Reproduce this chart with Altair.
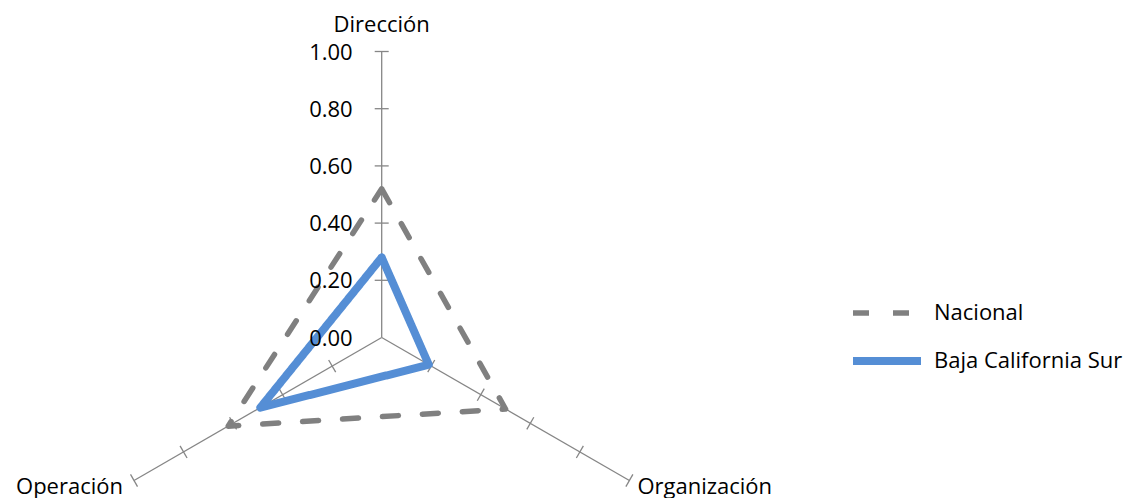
import math
import altair as alt
import pandas as pd

# ---------------- data ----------------
categorias = ["Dirección", "Organización", "Operación"]
series = ["Nacional", "Baja California Sur"]
nacional = [0.52, 0.50, 0.62]
bcs = [0.28, 0.19, 0.49]
ticks = [0.0, 0.2, 0.4, 0.6, 0.8, 1.0]
tick_labels = ["0.00", "0.20", "0.40", "0.60", "0.80", "1.00"]

# ---------------- layout ----------------
W, H = 1115, 490
CX, CY = 373.7, 329.5     # centre of radar in plot px
R = 286.0                 # px per unit
xmin = -CX / R
xmax = xmin + W / R
ymax = CY / R
ymin = ymax - H / R
HALF = 7.0 / R            # half tick length in data units

FONT = "Open Sans"
GRAY = "#868686"

xs = alt.Scale(domain=[xmin, xmax], nice=False, zero=False)
ys = alt.Scale(domain=[ymin, ymax], nice=False, zero=False)

ANG = "PI/2 - 2*PI*datum.idx/3"

# series polygons
rows = []
for s, vals in zip(series, [nacional, bcs]):
    for k in range(len(categorias) + 1):
        i = k % len(categorias)
        rows.append({"serie": s, "categoria": categorias[i], "idx": i,
                     "orden": k, "valor": vals[i]})
df_lines = pd.DataFrame(rows)

df_cat = pd.DataFrame({"categoria": categorias, "idx": list(range(len(categorias)))})

trows = []
for i, c in enumerate(categorias):
    for t in ticks[1:]:
        trows.append({"categoria": c, "idx": i, "t": t})
df_ticks = pd.DataFrame(trows)

df_tl = pd.DataFrame({"t": ticks, "label": tick_labels})

# spokes
spokes = alt.Chart(df_cat).transform_calculate(
    a=ANG, x0="0", y0="0", x1="cos(datum.a)", y1="sin(datum.a)"
).mark_rule(color=GRAY, strokeWidth=1.3).encode(
    x=alt.X("x0:Q", scale=xs, axis=None),
    y=alt.Y("y0:Q", scale=ys, axis=None),
    x2="x1:Q", y2="y1:Q",
)

# tick marks perpendicular to spokes
tickmarks = alt.Chart(df_ticks).transform_calculate(
    a=ANG,
    cx="datum.t*cos(datum.a)", cy="datum.t*sin(datum.a)",
).transform_calculate(
    x0=f"datum.cx - {HALF}*sin(datum.a)", y0=f"datum.cy + {HALF}*cos(datum.a)",
    x1=f"datum.cx + {HALF}*sin(datum.a)", y1=f"datum.cy - {HALF}*cos(datum.a)",
).mark_rule(color=GRAY, strokeWidth=1.3).encode(
    x=alt.X("x0:Q", scale=xs, axis=None),
    y=alt.Y("y0:Q", scale=ys, axis=None),
    x2="x1:Q", y2="y1:Q",
)

legend = alt.Legend(
    orient="none", legendX=841, legendY=294, title=None,
    symbolType="stroke", symbolSize=4624, clipHeight=22, rowPadding=26,
    labelFont=FONT, labelFontSize=22, labelColor="black", labelOffset=9,
    labelLimit=0, padding=0,
)

lines = alt.Chart(df_lines).transform_calculate(
    a=ANG, x="datum.valor*cos(datum.a)", y="datum.valor*sin(datum.a)"
).mark_line(strokeCap="round", strokeJoin="round").encode(
    x=alt.X("x:Q", scale=xs, axis=None),
    y=alt.Y("y:Q", scale=ys, axis=None),
    order="orden:Q",
    color=alt.Color("serie:N", scale=alt.Scale(domain=series, range=["#808080", "#558ED5"]),
                    legend=legend, sort=series),
    strokeDash=alt.StrokeDash("serie:N", scale=alt.Scale(domain=series, range=[[16, 24], [1, 0]]),
                              sort=series),
    strokeWidth=alt.StrokeWidth("serie:N", scale=alt.Scale(domain=series, range=[5.5, 8]),
                                sort=series),
    detail="serie:N",
)

tlabels = alt.Chart(df_tl).transform_calculate(x0="0").mark_text(
    font=FONT, fontSize=22, align="right", baseline="alphabetic", dx=-29, dy=8, color="black"
).encode(
    x=alt.X("x0:Q", scale=xs, axis=None),
    y=alt.Y("t:Q", scale=ys, axis=None),
    text="label:N",
)

cat_top = alt.Chart(df_cat).transform_filter("datum.idx == 0").transform_calculate(
    a=ANG, x="cos(datum.a)", y="sin(datum.a)"
).mark_text(font=FONT, fontSize=22, align="center", baseline="alphabetic", dy=-20, color="black").encode(
    x=alt.X("x:Q", scale=xs, axis=None), y=alt.Y("y:Q", scale=ys, axis=None), text="categoria:N")

cat_right = alt.Chart(df_cat).transform_filter("datum.idx == 1").transform_calculate(
    a=ANG, x="cos(datum.a)", y="sin(datum.a)"
).mark_text(font=FONT, fontSize=22, align="left", baseline="alphabetic", dx=8, dy=13, color="black").encode(
    x=alt.X("x:Q", scale=xs, axis=None), y=alt.Y("y:Q", scale=ys, axis=None), text="categoria:N")

cat_left = alt.Chart(df_cat).transform_filter("datum.idx == 2").transform_calculate(
    a=ANG, x="cos(datum.a)", y="sin(datum.a)"
).mark_text(font=FONT, fontSize=22, align="right", baseline="alphabetic", dx=-11, dy=13, color="black").encode(
    x=alt.X("x:Q", scale=xs, axis=None), y=alt.Y("y:Q", scale=ys, axis=None), text="categoria:N")

chart = alt.layer(spokes, tickmarks, lines, tlabels, cat_top, cat_right, cat_left).properties(
    width=W, height=H,
    autosize=alt.AutoSizeParams(type="none"),
    padding=0,
).configure(background="white", view=alt.ViewConfig(stroke=None))

chart.save("out.html", embed_options={"renderer": "svg", "actions": False})
